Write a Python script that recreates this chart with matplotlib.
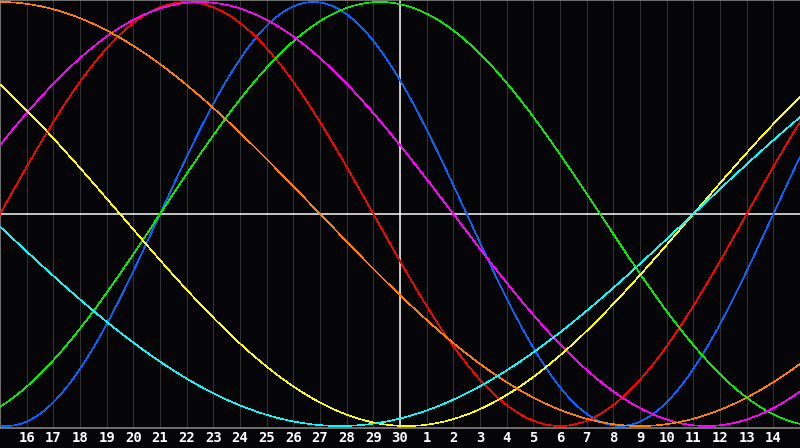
import numpy as np
import matplotlib
matplotlib.use('Agg')
import matplotlib.pyplot as plt

# biorhythm: days lived at the left edge of the chart (the 15th)
daysAtLeft = 22764
dayLabels = list(range(16, 31)) + list(range(1, 15))
todayLabel = 30

cycleNames = ['Physical', 'Emotional', 'Intellectual', 'Intuitive',
              'Aesthetic', 'Awareness', 'Spiritual']
cyclePeriods = [23, 28, 33, 38, 43, 48, 53]
cycleColors = ['#0066ff', '#ff0000', '#00ee00', '#ff00ff',
               '#ffff00', '#ff8000', '#00ffff']


def plotBiorhythm():
    fig = plt.figure(figsize=(8, 4.48), dpi=100, facecolor='#050508')
    ax = fig.add_axes([0, 20 / 448, 1, 428 / 448])
    ax.set_facecolor('#050508')

    span = len(dayLabels) + 1
    t = np.linspace(0, span, 1200)
    px = 1 / 100 * 72  # one pixel in points

    for i in range(1, span):
        ax.axvline(i, color='#333333', linewidth=px, zorder=1)

    todayPos = dayLabels.index(todayLabel) + 1
    ax.axhline(0, color='white', linewidth=px * 1.5, zorder=2)
    ax.axvline(todayPos, color='white', linewidth=px * 1.5, zorder=2)

    for name, period, color in zip(cycleNames, cyclePeriods, cycleColors):
        values = np.sin(2 * np.pi * (daysAtLeft + t) / period)
        ax.plot(t, values, color=color, linewidth=px * 0.6, label=name,
                antialiased=False, zorder=3)

    ax.set_xlim(0, span)
    ax.set_ylim(-214 / 212, 214 / 212)
    ax.set_yticks([])
    ax.set_xticks(range(1, span))
    ax.set_xticklabels([str(d) for d in dayLabels], color='white',
                       fontsize=10, fontweight='bold', family='DejaVu Sans Mono')
    ax.tick_params(axis='x', length=0, pad=2)

    for side in ['left', 'top', 'bottom']:
        ax.spines[side].set_color('#909090')
        ax.spines[side].set_linewidth(px * 1.5)
    ax.spines['right'].set_visible(False)

    fig.savefig('out.png', dpi=100, facecolor=fig.get_facecolor())


def main():
    plotBiorhythm()


if __name__ == "__main__":
    main()
